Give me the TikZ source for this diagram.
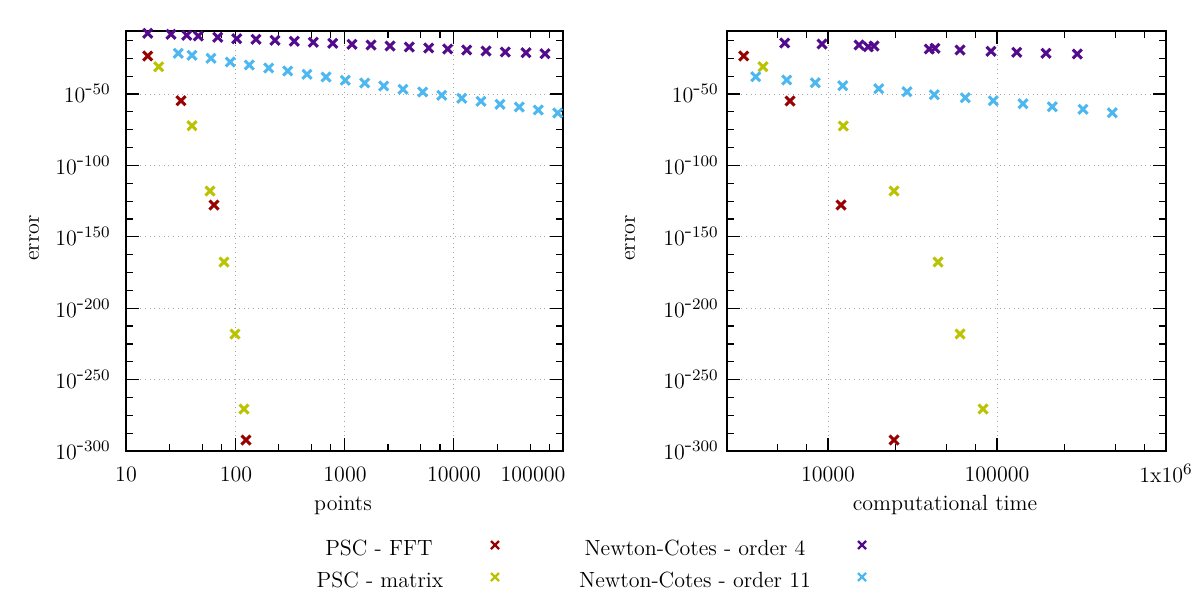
\documentclass[tikz,border=0pt]{standalone}
\definecolor{cred}{RGB}{153,0,0}
\definecolor{cyel}{RGB}{185,195,0}
\definecolor{cpur}{RGB}{84,10,140}
\definecolor{cblu}{RGB}{77,184,240}
\newcommand\pmk[3]{\draw[#1,line width=1.5pt] (#2-4.5,#3-4.5)--(#2+4.5,#3+4.5) (#2-4.5,#3+4.5)--(#2+4.5,#3-4.5);}
\begin{document}
\begin{tikzpicture}[x=0.5pt,y=-0.5pt,
  lab/.style={font=\fontsize{11}{13}\selectfont,inner sep=0pt},
  grid/.style={gray!70,dotted,line width=0.35pt},
  frame/.style={line width=0.6pt}]
\useasboundingbox (0,0) rectangle (1200,600);
% ---------- left panel ----------
\foreach \v in {-50,-100,...,-250}{\draw[grid] (126,{22.6-1.428*\v})--(563,{22.6-1.428*\v});}
\foreach \l in {2,3,4}{\draw[grid] ({126+109.25*(\l-1)},31)--({126+109.25*(\l-1)},451);}
\foreach \v in {-12.5,-25,...,-287.5}{\draw[frame] (126,{22.6-1.428*\v})--+(7,0) (563,{22.6-1.428*\v})--+(-7,0);}
\foreach \v in {-50,-100,...,-250}{\draw[frame] (126,{22.6-1.428*\v})--+(13,0) (563,{22.6-1.428*\v})--+(-13,0);}
\foreach \d in {1,2,3,4}{\foreach \f in {0.398,0.699,0.875}{\draw[frame] ({126+109.25*(\d-1+\f)},451)--+(0,-7) ({126+109.25*(\d-1+\f)},31)--+(0,7);}}
\foreach \l in {2,3,4}{\draw[frame] ({126+109.25*(\l-1)},451)--+(0,-13) ({126+109.25*(\l-1)},31)--+(0,13);}
\draw[frame] (126,31) rectangle (563,451);
\foreach \v in {50,100,150,200,250,300}{\node[lab,anchor=east] (ly\v) at (111,{22.6+1.428*\v}) {10$^{\mbox{-}\v}$};}
\node[lab] (lx1) at (126,474) {10};
\node[lab] (lx2) at (236,474) {100};
\node[lab] (lx3) at (345,474) {1000};
\node[lab] (lx4) at (454,474) {10000};
\node[lab] (lx5) at (533,474) {100000};
\node[lab] (lxl) at (343,505) {points};
\node[lab,rotate=90] (lyl) at (34,238) {error};
% ---------- right panel ----------
\foreach \v in {-50,-100,...,-250}{\draw[grid] (727,{22.6-1.428*\v})--(1166,{22.6-1.428*\v});}
\foreach \l in {4,5}{\draw[grid] ({828+169*(\l-4)},31)--({828+169*(\l-4)},451);}
\foreach \v in {-12.5,-25,...,-287.5}{\draw[frame] (727,{22.6-1.428*\v})--+(7,0) (1166,{22.6-1.428*\v})--+(-7,0);}
\foreach \v in {-50,-100,...,-250}{\draw[frame] (727,{22.6-1.428*\v})--+(13,0) (1166,{22.6-1.428*\v})--+(-13,0);}
\foreach \d in {3,4,5}{\foreach \f in {0.398,0.699,0.875}{\pgfmathsetmacro\xx{828+169*(\d-4+\f)}\ifdim\xx pt>740pt\draw[frame] (\xx,451)--+(0,-7) (\xx,31)--+(0,7);\fi}}
\foreach \l in {4,5}{\draw[frame] ({828+169*(\l-4)},451)--+(0,-13) ({828+169*(\l-4)},31)--+(0,13);}
\draw[frame] (727,31) rectangle (1166,451);
\foreach \v in {50,100,150,200,250,300}{\node[lab,anchor=east] (ry\v) at (719,{22.6+1.428*\v}) {10$^{\mbox{-}\v}$};}
\node[lab] (rx4) at (828,474) {10000};
\node[lab] (rx5) at (997,474) {100000};
\node[lab] (rx6) at (1166,474) {1x10$^{6}$};
\node[lab] (rxl) at (945,505) {computational time};
\node[lab,rotate=90] (ryl) at (630,238) {error};
% ---------- data left ----------
\foreach \x/\y in {147.7/56,181/100.7,214/205,246/440}{\pmk{cred}{\x}{\y}}
\foreach \x/\y in {158.7/66.7,192/125.7,210/191,224/262,235/334,244/409}{\pmk{cyel}{\x}{\y}}
\foreach \x/\y in {147.7/33.3,171/34.3,186.7/35.3,198.3/36,217.7/37.3,236.7/38.7,256/39.3,275/40.3,294.3/41.3,313.3/42.3,332.7/43.3,352/44.3,371/45,390/46,409.3/47,428.7/48,447.7/49,466.7/50,486/51,505.3/52,526/52.7,545/53.7}{\pmk{cpur}{\x}{\y}}
\foreach \x/\y in {178.3/53.3,192/55.3,211/58.3,230.3/62,249.3/65,268.7/68,287.7/71,307/74.3,326/77,345.3/80.3,364.7/83,383.7/86,403/89.3,422.7/92,441.7/95.3,461.7/98.3,481/101.3,500/104.3,519.3/107,538.3/110,557.7/113}{\pmk{cblu}{\x}{\y}}
% ---------- data right ----------
\foreach \x/\y in {743.7/56,790/101,841/205,894/440}{\pmk{cred}{\x}{\y}}
\foreach \x/\y in {763/66.7,843.3/126,894/191,938/262,960/334,983/409}{\pmk{cyel}{\x}{\y}}
\foreach \x/\y in {784.7/43,822/44,859/45,868.3/46.7,874/46,929.3/49,935/48.3,960/50,991/51.3,1016.7/52.3,1046/53.3,1077.3/54}{\pmk{cpur}{\x}{\y}}
\foreach \x/\y in {755.7/76.7,786.7/80,815.3/82.7,842.7/85.7,878.7/88.7,907/91.7,934.3/94.7,965.3/97.7,993.3/100.7,1023/103.7,1052.3/106.7,1083/109.3,1112.3/112.7}{\pmk{cblu}{\x}{\y}}
% ---------- legend ----------
\node[lab] (k1) at (379,548) {PSC - FFT};
\node[lab] (k2) at (380,580) {PSC - matrix};
\node[lab] (k3) at (695,548) {Newton-Cotes - order 4};
\node[lab] (k4) at (695,580) {Newton-Cotes - order 11};
\draw[cred,line width=1.2pt] (491,541)--(499,549) (491,549)--(499,541);
\draw[cyel,line width=1.2pt] (491,573)--(499,581) (491,581)--(499,573);
\draw[cpur,line width=1.2pt] (858,541)--(866,549) (858,549)--(866,541);
\draw[cblu,line width=1.2pt] (858,573)--(866,581) (858,581)--(866,573);
\end{tikzpicture}
\end{document}
